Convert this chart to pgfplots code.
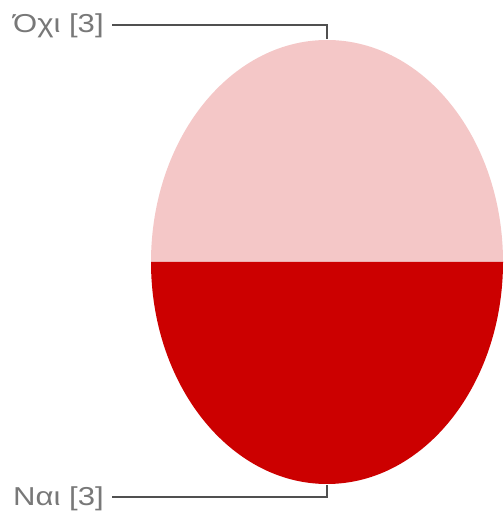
\documentclass[border=0pt]{standalone}
\usepackage{pgfplots}
\pgfplotsset{compat=1.18}
\usepackage{pgfplotstable}
\usepackage{graphicx}
\usepackage{fontspec}
\setmainfont{Liberation Sans}
\definecolor{slicepink}{RGB}{244,199,199}
\definecolor{slicered}{RGB}{204,0,0}
\definecolor{leadgray}{RGB}{80,80,80}
\definecolor{labelgray}{RGB}{120,120,120}

% slices: label, count
\pgfplotstableread{
label count
Όχι 3
Ναι 3
}\piedata

\begin{document}
\begin{tikzpicture}
\begin{axis}[
  x=1bp, y=1bp,
  xmin=0, xmax=503, ymin=0, ymax=523,
  hide axis,
  clip=false,
]
% keep the full canvas as bounding box
\path (axis cs:0,0) rectangle (axis cs:503,523);
\pgfplotstablegetelem{0}{count}\of\piedata \let\cA\pgfplotsretval
\pgfplotstablegetelem{1}{count}\of\piedata \let\cB\pgfplotsretval
\pgfmathsetmacro{\angA}{360*\cA/(\cA+\cB)}
% top slice (Όχι), starting at 0 deg, counterclockwise
\fill[slicepink] (axis cs:327,261) -- ++(0:176bp and 222bp)
  arc[start angle=0, end angle=\angA, x radius=176bp, y radius=222bp] -- cycle;
% bottom slice (Ναι)
\fill[slicered] (axis cs:327,261) -- ++(\angA:176bp and 222bp)
  arc[start angle=\angA, end angle=360, x radius=176bp, y radius=222bp] -- cycle;
% leader lines
\draw[leadgray, line width=2bp] (axis cs:112,498) -- (axis cs:327,498) -- (axis cs:327,484);
\draw[leadgray, line width=2bp] (axis cs:112,26) -- (axis cs:327,26) -- (axis cs:327,38);
\node[labelgray, anchor=west, font=\fontsize{26}{30}\selectfont, inner sep=0pt] at (axis cs:13,497) {\scalebox{1.2}[1]{Όχι [3]}};
\node[labelgray, anchor=west, font=\fontsize{26}{30}\selectfont, inner sep=0pt] at (axis cs:13,24) {\scalebox{1.2}[1]{Ναι [3]}};
\end{axis}
\end{tikzpicture}
\end{document}
